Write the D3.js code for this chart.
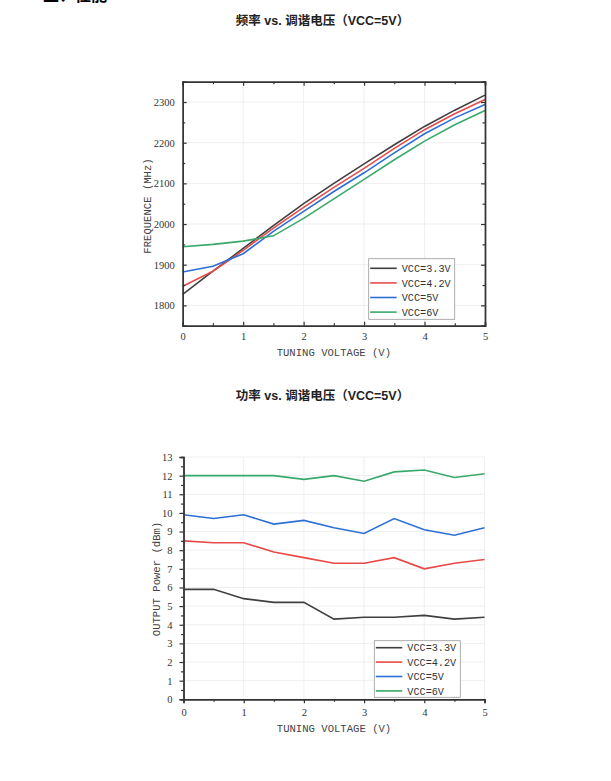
<!DOCTYPE html>
<meta charset="utf-8">
<script src="https://cdn.jsdelivr.net/npm/d3@7"></script>
<style>
  body { margin: 0; background: #fff; }
  .tick text { font-family: "Liberation Serif", serif; font-size: 10.5px; fill: #333; }
  .mono { font-family: "Liberation Mono", monospace; fill: #444; }
</style>
<div id="chart"></div>
<script>

// data
var voltage = [0, 0.5, 1, 1.5, 2, 2.5, 3, 3.5, 4, 4.5, 5];
var seriesNames = ["VCC=3.3V", "VCC=4.2V", "VCC=5V", "VCC=6V"];
var seriesColors = ["#3f3f3f", "#e84a48", "#2c6fd6", "#38a96a"];

var freq33 = [1827, 1884, 1940, 1996, 2050, 2100, 2148, 2195, 2240, 2280, 2317];
var freq42 = [1847, 1884, 1935, 1990, 2041, 2090, 2137, 2186, 2232, 2271, 2306];
var freq50 = [1882, 1896, 1927, 1982, 2031, 2080, 2126, 2175, 2222, 2261, 2294];
var freq60 = [1944, 1950, 1958, 1971, 2014, 2062, 2110, 2158, 2204, 2244, 2279];

var pow33 = [5.9, 5.9, 5.4, 5.2, 5.2, 4.3, 4.4, 4.4, 4.5, 4.3, 4.4];
var pow42 = [8.5, 8.4, 8.4, 7.9, 7.6, 7.3, 7.3, 7.6, 7.0, 7.3, 7.5];
var pow50 = [9.9, 9.7, 9.9, 9.4, 9.6, 9.2, 8.9, 9.7, 9.1, 8.8, 9.2];
var pow60 = [12.0, 12.0, 12.0, 12.0, 11.8, 12.0, 11.7, 12.2, 12.3, 11.9, 12.1];

var voltTicks = [0, 1, 2, 3, 4, 5];
var voltMinor = [0.5, 1.5, 2.5, 3.5, 4.5];
var freqTicks = [1800, 1900, 2000, 2100, 2200, 2300];
var freqMinor = [1750, 1850, 1950, 2050, 2150, 2250, 2350];
var powTicks = [0, 1, 2, 3, 4, 5, 6, 7, 8, 9, 10, 11, 12, 13];
var powMinor = [0.5, 1.5, 2.5, 3.5, 4.5, 5.5, 6.5, 7.5, 8.5, 9.5, 10.5, 11.5, 12.5];

var svg = d3.select("#chart")
  .append("svg")
    .attr("width", 611)
    .attr("height", 781)

// heading cut off at the top of the page (only its lower edge shows in the reference)
svg.append("text")
  .attr("x", 43).attr("y", 1)
  .style("font-family", "'Noto Sans CJK SC'")
  .style("font-weight", "bold")
  .style("font-size", "16px")
  .text("五、性能")

function drawChart(o) {
  var x = d3.scaleLinear().domain(o.xDomain).range([o.left, o.right])
  var y = d3.scaleLinear().domain(o.yDomain).range([o.bottom, o.top])
  var g = svg.append("g")

  // title
  g.append("text")
    .attr("x", 322.5).attr("y", o.titleY)
    .attr("text-anchor", "middle")
    .style("font-family", "'Liberation Sans', 'Noto Sans CJK SC'")
    .style("font-weight", "bold")
    .style("font-size", "12.5px")
    .style("fill", "#222")
    .text(o.title)

  // grid
  g.selectAll(null).data(o.yTicks).enter().append("line")
    .attr("x1", o.left).attr("x2", o.right)
    .attr("y1", function(d){ return y(d) }).attr("y2", function(d){ return y(d) })
    .style("stroke", "#ebebeb").style("stroke-width", 0.8)
  g.selectAll(null).data(voltTicks.slice(1)).enter().append("line")
    .attr("x1", function(d){ return x(d) }).attr("x2", function(d){ return x(d) })
    .attr("y1", o.top).attr("y2", o.bottom)
    .style("stroke", "#ebebeb").style("stroke-width", 0.8)

  // lines
  var line = d3.line()
    .x(function(d, i){ return x(voltage[i]) })
    .y(function(d){ return y(d) })
  o.series.forEach(function(s, i) {
    g.append("path")
      .datum(s)
      .attr("d", line)
      .style("fill", "none")
      .style("stroke", seriesColors[i])
      .style("stroke-width", 1.6)
  })

  // axes (inward ticks for the boxed chart, outward for the other one)
  var dir = o.boxed ? -1 : 1
  var minorY = o.yMinor.filter(function(v){ return v > o.yDomain[0] && v < o.yDomain[1] })
  g.append("g").attr("transform", "translate(0," + o.bottom + ")")
    .call(d3.axisBottom(x).tickValues(voltTicks).tickSize(4 * dir).tickPadding(o.boxed ? 7 : 5).tickFormat(d3.format("d")))
  g.append("g").attr("transform", "translate(" + o.left + ",0)")
    .call(d3.axisLeft(y).tickValues(o.yTicks).tickSize(4 * dir).tickPadding(o.boxed ? 8 : 7).tickFormat(d3.format("d")))
  g.append("g").attr("transform", "translate(0," + o.bottom + ")")
    .call(d3.axisBottom(x).tickValues(voltMinor).tickSize(2.5 * dir).tickFormat(""))
  g.append("g").attr("transform", "translate(" + o.left + ",0)")
    .call(d3.axisLeft(y).tickValues(minorY).tickSize(2.5 * dir).tickFormat(""))

  if (o.boxed) {
    g.append("g").attr("transform", "translate(0," + o.top + ")")
      .call(d3.axisTop(x).tickValues(voltTicks).tickSize(-4).tickFormat(""))
    g.append("g").attr("transform", "translate(0," + o.top + ")")
      .call(d3.axisTop(x).tickValues(voltMinor).tickSize(-2.5).tickFormat(""))
    g.append("g").attr("transform", "translate(" + o.right + ",0)")
      .call(d3.axisRight(y).tickValues(o.yTicks).tickSize(-4).tickFormat(""))
    g.append("g").attr("transform", "translate(" + o.right + ",0)")
      .call(d3.axisRight(y).tickValues(minorY).tickSize(-2.5).tickFormat(""))
  }
  g.selectAll(".domain").style("stroke", "#333").style("stroke-width", 1.4)
  g.selectAll(".tick line").style("stroke", "#333").style("stroke-width", 1.2)

  // axis titles
  g.append("text").attr("class", "mono")
    .attr("x", (o.left + o.right) / 2).attr("y", o.xTitleY)
    .attr("text-anchor", "middle")
    .style("font-size", "10.6px")
    .text("TUNING VOLTAGE\u00a0(V)")
  g.append("text").attr("class", "mono")
    .attr("transform", "translate(" + o.yTitleX + "," + o.yTitleMid + ") rotate(-90)")
    .attr("text-anchor", "middle")
    .style("font-size", "10.6px")
    .text(o.yTitle)

  // legend
  var lg = g.append("g").attr("transform", "translate(" + o.legend[0] + "," + o.legend[1] + ")")
  lg.append("rect")
    .attr("width", 86).attr("height", o.legendH)
    .style("fill", "#fff").style("stroke", "#999").style("stroke-width", 0.8)
  seriesNames.forEach(function(name, i) {
    var yy = o.legendFirst + i * o.legendStep
    lg.append("line")
      .attr("x1", 1.5).attr("x2", 28).attr("y1", yy).attr("y2", yy)
      .style("stroke", seriesColors[i]).style("stroke-width", 1.6)
    lg.append("text").attr("class", "mono")
      .attr("x", 33).attr("y", yy + 3.7)
      .style("font-size", "10.2px")
      .style("fill", "#333")
      .text(name)
  })
}

drawChart({
  title: "频率 vs. 调谐电压（VCC=5V）", titleY: 25,
  xDomain: [0, 5], yDomain: [1750, 2350],
  left: 182.7, right: 485, top: 81.7, bottom: 325.7,
  yTicks: freqTicks, yMinor: freqMinor,
  series: [freq33, freq42, freq50, freq60],
  boxed: true,
  xTitleY: 356, yTitleX: 151, yTitleMid: 206, yTitle: "FREQUENCE\u00a0(MHz)",
  legend: [368.7, 258.7], legendH: 60.6, legendFirst: 9.6, legendStep: 14.6
})

drawChart({
  title: "功率 vs. 调谐电压（VCC=5V）", titleY: 400,
  xDomain: [0, 5], yDomain: [0, 13],
  left: 183.5, right: 484.5, top: 457, bottom: 699.3,
  yTicks: powTicks, yMinor: powMinor,
  series: [pow33, pow42, pow50, pow60],
  boxed: false,
  xTitleY: 732, yTitleX: 160, yTitleMid: 579, yTitle: "OUTPUT\u00a0Power\u00a0(dBm)",
  legend: [374.3, 640.7], legendH: 56.6, legendFirst: 7, legendStep: 14.4
})

</script>
